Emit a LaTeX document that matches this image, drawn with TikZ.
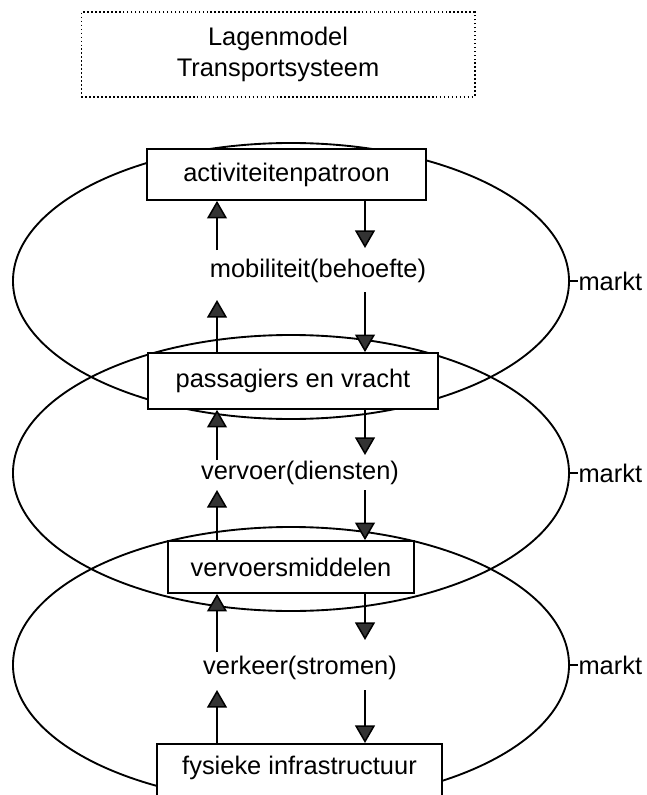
\documentclass[tikz,border=0pt]{standalone}
\usepackage{fontspec}
\setmainfont{Liberation Sans}
\usetikzlibrary{arrows.meta,shapes.geometric}

\tikzset{
  laag/.style={draw,line width=1.6pt,ellipse,minimum width=16.68cm,minimum height=8.28cm,inner sep=0pt},
  blok/.style={draw,line width=1.5pt,fill=white,inner sep=0pt},
  pijl/.style={line width=1.3pt,-{Triangle[width=17pt,length=15pt,fill=black!80]}},
}

\begin{document}
\begin{tikzpicture}[x=0.03cm,y=-0.03cm,font=\fontsize{21.7pt}{27pt}\selectfont]
\useasboundingbox (0,0) rectangle (646,795);
\clip (0,0) rectangle (646,795);

\node[draw,dotted,line width=1.4pt,minimum width=11.8cm,minimum height=2.55cm,align=center] (titel) at (278,54.5) {Lagenmodel\\Transportsysteem};

\node[laag] (l1) at (291,281) {};
\node[laag] (l2) at (291,473) {};
\node[laag] (l3) at (291,665) {};

\node[blok,minimum width=8.37cm,minimum height=1.53cm] (act) at (286.5,174.5) {activiteitenpatroon};
\node[blok,minimum width=8.7cm,minimum height=1.68cm] (pas) at (293,381) {passagiers en vracht};
\node[blok,minimum width=7.38cm,minimum height=1.56cm] (vm) at (291,567) {vervoersmiddelen};
\node[blok,minimum width=8.55cm,minimum height=2.4cm,anchor=north] (fys) at (299.5,743) {};
\node (fyst) at (299.5,768) {fysieke infrastructuur};

\node (mob) at (318,271) {mobiliteit(behoefte)};
\node (ver) at (300,473) {vervoer(diensten)};
\node (vrk) at (300,668) {verkeer(stromen)};

\foreach \l in {1,2,3}{
  \node[anchor=west,inner sep=0pt] (mk\l) at ([xshift=0.25cm]l\l.east) {markt};
  \draw[line width=1.2pt] (l\l.east) -- (mk\l.west);
}

\coordinate (a1) at (217,250); \coordinate (b1) at (365,248);
\coordinate (a2) at (217,300); \coordinate (b2) at (365,292);
\coordinate (a3) at (217,460); \coordinate (b3) at (365,455);
\coordinate (a4) at (217,490); \coordinate (b4) at (365,490);
\coordinate (a5) at (217,652); \coordinate (b5) at (365,640);
\coordinate (a6) at (217,690); \coordinate (b6) at (365,690);

\draw[pijl] (a1) -- (a1 |- act.south);
\draw[pijl] (b1 |- act.south) -- (b1);
\draw[pijl] (a2 |- pas.north) -- (a2);
\draw[pijl] (b2) -- (b2 |- pas.north);
\draw[pijl] (a3) -- (a3 |- pas.south);
\draw[pijl] (b3 |- pas.south) -- (b3);
\draw[pijl] (a4 |- vm.north) -- (a4);
\draw[pijl] (b4) -- (b4 |- vm.north);
\draw[pijl] (a5) -- (a5 |- vm.south);
\draw[pijl] (b5 |- vm.south) -- (b5);
\draw[pijl] (a6 |- fys.north) -- (a6);
\draw[pijl] (b6) -- (b6 |- fys.north);
\end{tikzpicture}
\end{document}
